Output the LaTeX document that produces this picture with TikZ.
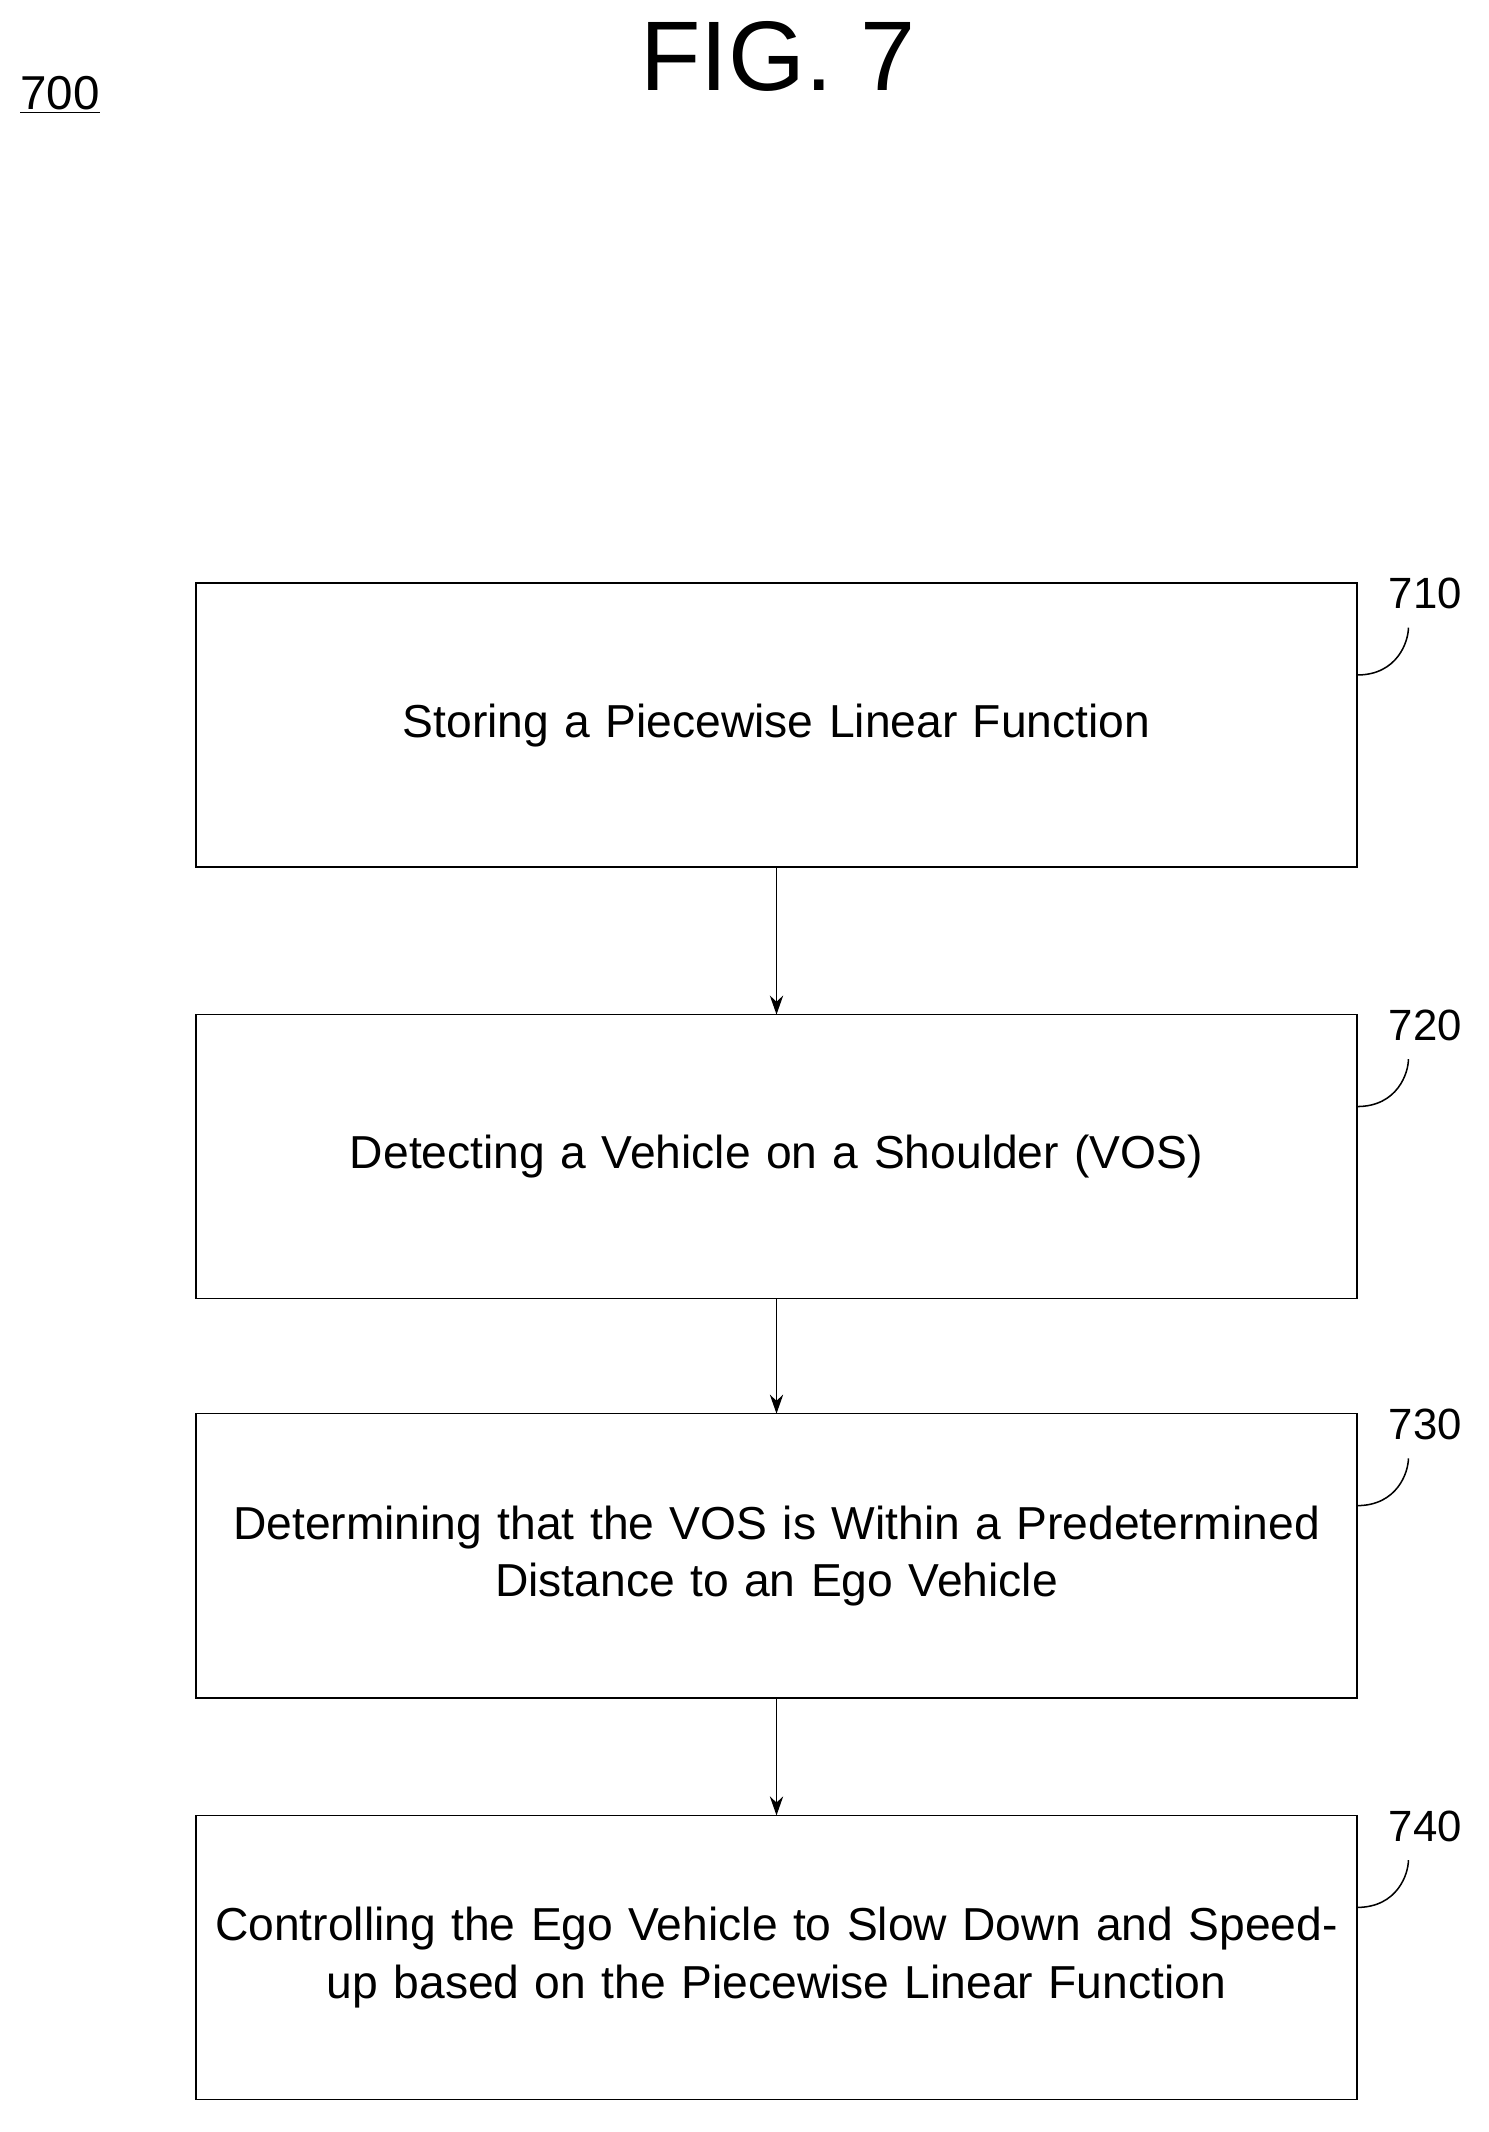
\documentclass[tikz,border=0pt]{standalone}
\usepackage{fontspec}
\setmainfont{Liberation Sans}
\usetikzlibrary{positioning,arrows.meta}
\begin{document}
\begin{tikzpicture}[x=0.025cm,y=-0.025cm,inner sep=0pt,outer sep=0pt,thick,
	stepbox/.style={draw,rectangle,minimum width=21.45cm,minimum height=5.25cm,align=center,font=\fontsize{24.3}{30}\selectfont,text width=21cm},
	steplabel/.style={font=\fontsize{23}{28}\selectfont,anchor=west}]
	\useasboundingbox (0,0) rectangle (1100,1576);
	\node[font=\fontsize{52}{60}\selectfont] (fig) at (575,42) {FIG. 7};
	\node[font=\fontsize{25}{30}\selectfont,anchor=west] (num) at (15,70) {\underline{700}};
	\node[stepbox] (s710) at (574,536) {Storing a Piecewise Linear Function};
	\node[stepbox] (s720) at (574,855) {Detecting a Vehicle on a Shoulder (VOS)};
	\node[stepbox] (s730) at (574,1150) {Determining that the VOS is Within a Predetermined\\Distance to an Ego Vehicle};
	\node[stepbox] (s740) at (574,1447) {Controlling the Ego Vehicle to Slow Down and Speed-\\up based on the Piecewise Linear Function};
	\foreach \s/\t in {s710/710,s720/720,s730/730,s740/740} {
		\node[steplabel] (l\t) at ([xshift=12\pgflinewidth] \s.north east) [xshift=0.25cm,yshift=-0.2cm] {\t};
		\draw (\s.north east) ++(0,68) .. controls ++(30,0) and ++(0,10) .. ++(38,-35);
	}
	\draw[-{Stealth[length=10pt,width=7pt]}] (s710) -- (s720);
	\draw[-{Stealth[length=10pt,width=7pt]}] (s720) -- (s730);
	\draw[-{Stealth[length=10pt,width=7pt]}] (s730) -- (s740);
\end{tikzpicture}
\end{document}
